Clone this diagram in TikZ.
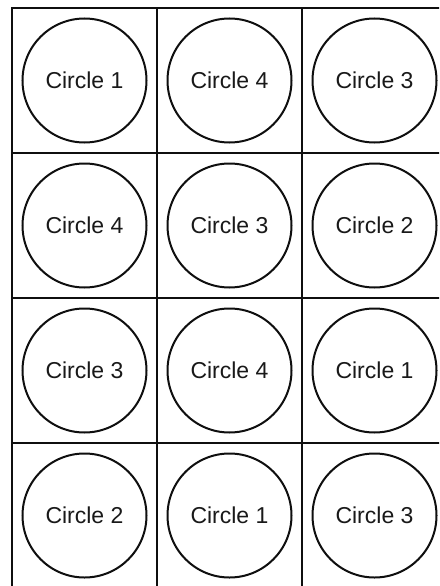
\documentclass[tikz,border=0pt]{standalone}
\usepackage{fontspec}
\setmainfont{Liberation Sans}
\usepackage{tikz}
\usetikzlibrary{positioning}
\definecolor{lineColor}{RGB}{15, 15, 15}
\definecolor{textColor}{RGB}{25, 25, 25}

\tikzset{
    gridline/.style={draw=lineColor, line width=2pt},
    disc/.style={circle, draw=lineColor, line width=2pt, minimum size=124pt,
                 inner sep=0pt, text=textColor, font=\fontsize{23}{27}\selectfont}
}

\begin{document}
\begin{tikzpicture}[x=1pt, y=-1pt]
            \clip (0,0) rectangle (439,586);
            \fill[white] (0,0) rectangle (439,586);
            % cells
            \draw[gridline] (12,8) rectangle (447,588);
            \foreach \gx in {157,302}
                \draw[gridline] (\gx,8) -- (\gx,588);
            \foreach \gy in {153,298,443}
                \draw[gridline] (12,\gy) -- (447,\gy);
            % circles, row by row
            \foreach \r/\a/\b/\c in {1/1/4/3, 2/4/3/2, 3/3/4/1, 4/2/1/3} {
                \node[disc] (disc\r a) at (84.5, {80.5+145*(\r-1)}) {Circle \a};
                \node[disc] (disc\r b) at (229.5, {80.5+145*(\r-1)}) {Circle \b};
                \node[disc] (disc\r c) at (374.5, {80.5+145*(\r-1)}) {Circle \c};
            }
        \end{tikzpicture}
\end{document}
